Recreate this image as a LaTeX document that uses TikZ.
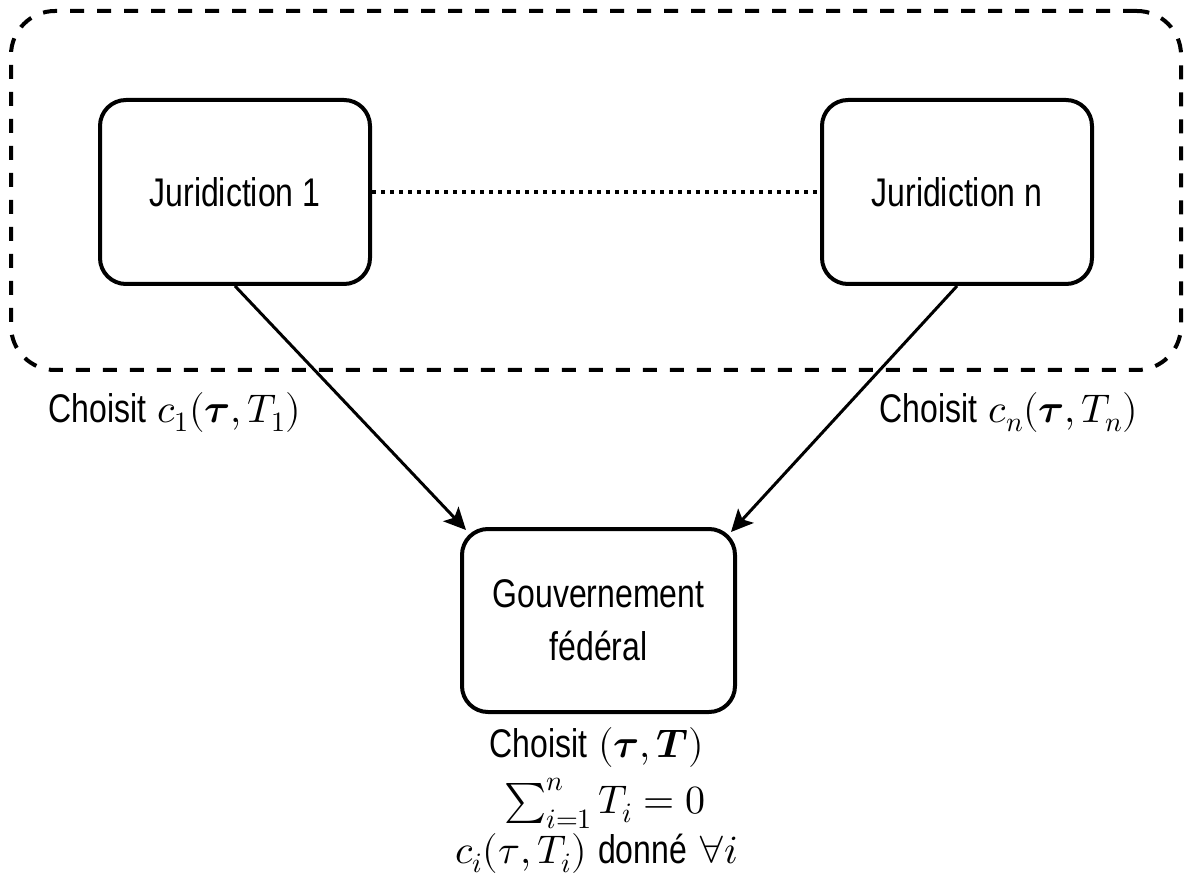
\documentclass[tikz,border=0pt]{standalone}
\usepackage{fontspec}
\usepackage{unicode-math}
\usepackage{graphicx}
\setmainfont{Liberation Sans}
\setmathfont{Latin Modern Math}
\usetikzlibrary{arrows.meta}
\newcommand\nar[1]{\scalebox{0.8}[1]{#1}}
\tikzset{
  box/.style={draw, line width=4pt, rounded corners=26pt, align=center, inner sep=0pt},
  frame/.style={draw, line width=4pt, rounded corners=44pt, dash pattern=on 14pt off 13pt, inner sep=0pt},
  arr/.style={line width=3pt, -{Stealth[length=22pt,width=21pt,inset=5pt]}},
  dotline/.style={line width=3.5pt, dash pattern=on 3.5pt off 5.5pt},
  lbl/.style={inner sep=0pt, anchor=base}
}
\begin{document}
\begin{tikzpicture}[x=1pt,y=-1pt, font=\fontsize{40}{53}\selectfont]
\useasboundingbox (0,0) rectangle (1184,877);
\node[frame, minimum width=1170pt, minimum height=359pt] (fr) at (596,190.5) {};
\node[box, minimum width=270pt, minimum height=184pt] (j1) at (235,192) {\nar{Juridiction 1}};
\node[box, minimum width=270pt, minimum height=184pt] (jn) at (957,192) {\nar{Juridiction n}};
\node[box, minimum width=273pt, minimum height=183pt] (g) at (598.5,620.5) {\nar{Gouvernement}\\\nar{fédéral}};
\draw[dotline] (j1.east) -- (jn.west);
\draw[arr] (j1.south) -- ([shift={(6pt,-3pt)}]g.north west);
\draw[arr] (jn.south) -- ([shift={(-6pt,-5pt)}]g.north east);
\node[lbl] (l1) at (175,422) {\nar{Choisit} $c_1(\symbfit{\tau},T_1)$};
\node[lbl] (ln) at (1009,422) {\nar{Choisit} $c_n(\symbfit{\tau},T_n)$};
\node[lbl] (b1) at (597,757) {\nar{Choisit} $(\symbfit{\tau},\symbfit{T})$};
\node[lbl] (b2) at (605,813) {$\sum_{i=1}^{n}T_i=0$};
\node[lbl] (b3) at (597,863) {$c_i(\tau,T_i)$ \nar{donné} $\forall i$};
\end{tikzpicture}
\end{document}
